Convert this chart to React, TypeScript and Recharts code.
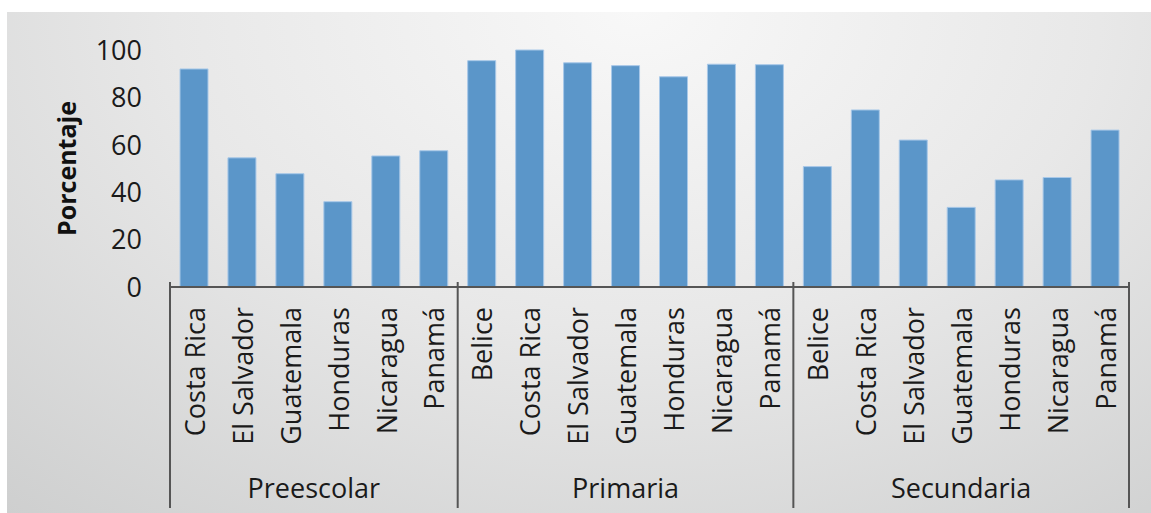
import React from "react";
import { BarChart, Bar, XAxis, YAxis } from "recharts";

const groups = ["Preescolar", "Primaria", "Secundaria"];
const preescolarCountries = ["Costa Rica", "El Salvador", "Guatemala", "Honduras", "Nicaragua", "Panamá"];
const primariaCountries = ["Belice", "Costa Rica", "El Salvador", "Guatemala", "Honduras", "Nicaragua", "Panamá"];
const secundariaCountries = ["Belice", "Costa Rica", "El Salvador", "Guatemala", "Honduras", "Nicaragua", "Panamá"];
const preescolarValues = [92, 54.5, 47.8, 36, 55.3, 57.5];
const primariaValues = [95.5, 100, 94.6, 93.4, 88.7, 94, 93.8];
const secundariaValues = [50.8, 74.7, 62, 33.6, 45.2, 46.2, 66.2];
const yTicks = [0, 20, 40, 60, 80, 100];

const W = 1151;
const H = 513;
const X_AXIS_H = 30;
const MARGIN = { top: 50, right: 22, bottom: 226 - X_AXIS_H, left: 90 };
const Y_AXIS_W = 80;
const FONT = "'Open Sans', Lato, sans-serif";
const BAR = "#5b96c9";
const AXIS = "#555555";

const data = [
  ...preescolarCountries.map((c, i) => ({ country: c, group: groups[0], value: preescolarValues[i] })),
  ...primariaCountries.map((c, i) => ({ country: c, group: groups[1], value: primariaValues[i] })),
  ...secundariaCountries.map((c, i) => ({ country: c, group: groups[2], value: secundariaValues[i] })),
];

const plotW = W - MARGIN.left - MARGIN.right - Y_AXIS_W;
const step = plotW / data.length;

function CountryTick(props: any) {
  const { x, y, payload } = props;
  const i = payload.index;
  const row = data[i];
  const first = i === 0 || data[i - 1].group !== row.group;
  const last = i === data.length - 1;
  const size = data.filter((d) => d.group === row.group).length;
  const left = x - step / 2;
  return (
    <g>
      <text
        x={0}
        y={0}
        transform={`translate(${x + 1},${y + 12}) rotate(-90)`}
        textAnchor="end"
        dy="0.36em"
        fontSize={27}
        fontFamily={FONT}
        fill="#1a1a1a"
      >
        {row.country}
      </text>
      {first && <line x1={left} x2={left} y1={y - 13} y2={y + 213} stroke={AXIS} strokeWidth={2} />}
      {last && <line x1={x + step / 2} x2={x + step / 2} y1={y - 13} y2={y + 213} stroke={AXIS} strokeWidth={2} />}
      {first && (
        <text
          x={left + (size * step) / 2}
          y={y + 203}
          textAnchor="middle"
          fontSize={27}
          fontFamily={FONT}
          fill="#1a1a1a"
        >
          {row.group}
        </text>
      )}
    </g>
  );
}

function ValueTick(props: any) {
  const { y, payload } = props;
  return (
    <text x={142} y={y} dy="0.36em" textAnchor="end" fontSize={27} fontFamily={FONT} fill="#1a1a1a">
      {payload.value}
    </text>
  );
}

export default function App() {
  return (
    <div style={{ position: "absolute", left: 0, top: 0, width: W, height: H, background: "#ffffff" }}>
      <div
        style={{
          position: "absolute",
          left: 7,
          top: 12,
          right: 0,
          bottom: 0,
          background: "radial-gradient(ellipse 90% 140% at 55% 0%, #f8f8f8 0%, #e8e8e8 45%, #cbcccc 100%)",
        }}
      />
      <div style={{ position: "absolute", left: 0, top: 0 }}>
        <BarChart width={W} height={H} data={data} margin={MARGIN}>
          <XAxis
            dataKey="country"
            height={X_AXIS_H}
            interval={0}
            tick={<CountryTick />}
            tickLine={false}
            axisLine={{ stroke: AXIS, strokeWidth: 2 }}
          />
          <YAxis
            width={Y_AXIS_W}
            domain={[0, 100]}
            ticks={yTicks}
            tick={<ValueTick />}
            axisLine={false}
            tickLine={false}
            label={{
              value: "Porcentaje",
              angle: -90,
              position: "insideLeft",
              offset: -23,
              style: { fontSize: 25, fontWeight: 700, fontFamily: FONT, fill: "#111", textAnchor: "middle" },
            }}
          />
          <Bar dataKey="value" fill={BAR} stroke="#a8c8e8" strokeWidth={1} barSize={28} isAnimationActive={false} />
        </BarChart>
      </div>
    </div>
  );
}
